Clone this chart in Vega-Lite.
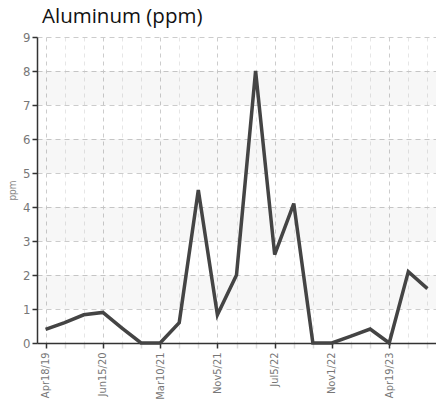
{
  "$schema": "https://vega.github.io/schema/vega-lite/v6.json",
  "autosize": "none",
  "width": 399,
  "height": 306,
  "padding": {"left": 37, "top": 37, "right": 0, "bottom": 64},
  "title": {"text": "Aluminum (ppm)", "anchor": "start", "frame": "group", "dx": 5, "offset": 4, "fontSize": 20.5, "fontWeight": "normal", "font": "Open Sans", "color": "#111"},
  "config": {
    "view": {"stroke": null},
    "axisY": {
      "titleFont": "DejaVu Sans Condensed",
      "titleFontSize": 10,
      "titleFontWeight": "normal",
      "titleColor": "#888",
      "titlePadding": 5,
      "labelOverlap": false,
      "labelFont": "DejaVu Sans Condensed",
      "labelFontSize": 13,
      "labelColor": "#777",
      "labelPadding": 2,
      "domainColor": "#333",
      "domainWidth": 1.5,
      "tickColor": "#333",
      "tickSize": 5,
      "tickWidth": 1.5,
      "grid": true,
      "gridDash": [5, 4],
      "gridColor": "#ccc"
    }
  },
  "datasets": {
    "pts": [
      {"i": 0, "d": "Apr18/19", "v": 0.4},
      {"i": 1, "d": "Oct2/19", "v": 0.6},
      {"i": 2, "d": "Feb12/20", "v": 0.83},
      {"i": 3, "d": "Jun15/20", "v": 0.9},
      {"i": 4, "d": "Sep20/20", "v": 0.44},
      {"i": 5, "d": "Dec10/20", "v": 0},
      {"i": 6, "d": "Mar10/21", "v": 0},
      {"i": 7, "d": "May20/21", "v": 0.6},
      {"i": 8, "d": "Aug12/21", "v": 4.5},
      {"i": 9, "d": "Nov5/21", "v": 0.83},
      {"i": 10, "d": "Jan20/22", "v": 2.0},
      {"i": 11, "d": "Apr10/22", "v": 8.0},
      {"i": 12, "d": "Jul5/22", "v": 2.6},
      {"i": 13, "d": "Aug10/22", "v": 4.1},
      {"i": 14, "d": "Sep15/22", "v": 0},
      {"i": 15, "d": "Nov1/22", "v": 0},
      {"i": 16, "d": "Jan10/23", "v": 0.2},
      {"i": 17, "d": "Mar1/23", "v": 0.41},
      {"i": 18, "d": "Apr19/23", "v": 0},
      {"i": 19, "d": "Jun10/23", "v": 2.1},
      {"i": 20, "d": "Aug15/23", "v": 1.6}
    ],
    "bands": [
      {"lo": 1, "hi": 2},
      {"lo": 3, "hi": 4},
      {"lo": 5, "hi": 6},
      {"lo": 7, "hi": 8}
    ]
  },
  "layer": [
    {
      "data": {"name": "bands"},
      "mark": {"type": "rect", "color": "#000", "opacity": 0.03},
      "encoding": {
        "y": {
          "field": "lo", "type": "quantitative", "scale": {"domain": [0, 9]},
          "axis": {"title": "ppm", "values": [0,1,2,3,4,5,6,7,8,9], "tickCount": 20, "format": "d"}
        },
        "y2": {"field": "hi"}
      }
    },
    {
      "data": {"name": "pts"},
      "mark": {"type": "line", "color": "#444", "strokeWidth": 3.5, "strokeJoin": "miter"},
      "encoding": {
        "x": {
          "field": "d", "type": "ordinal", "sort": {"field": "i"},
          "scale": {"type": "point", "padding": 0.45},
          "axis": {
            "title": null,
            "labelAngle": -90,
            "labelFont": "DejaVu Sans Condensed",
            "labelFontSize": 11,
            "labelColor": "#777",
            "labelPadding": 4,
            "labelExpr": "indexof(['Apr18/19','Jun15/20','Mar10/21','Nov5/21','Jul5/22','Nov1/22','Apr19/23'], datum.value) >= 0 ? datum.value : ''",
            "domainColor": "#333",
            "domainWidth": 1.5,
            "tickColor": {"condition": {"test": "indexof(['Apr18/19','Jun15/20','Mar10/21','Nov5/21','Jul5/22','Nov1/22','Apr19/23'], datum.value) >= 0", "value": "#333"}, "value": "#ddd"},
            "tickSize": 5,
            "tickWidth": 1.5,
            "grid": true,
            "gridDash": [4, 4],
            "gridColor": {"condition": {"test": "indexof(['Apr18/19','Jun15/20','Mar10/21','Nov5/21','Jul5/22','Nov1/22','Apr19/23'], datum.value) >= 0", "value": "#ccc"}, "value": "#e6e6e6"}
          }
        },
        "y": {
          "field": "v", "type": "quantitative", "scale": {"domain": [0, 9]},
          "axis": {"title": "ppm", "values": [0,1,2,3,4,5,6,7,8,9], "tickCount": 20, "format": "d"}
        }
      }
    }
  ]
}
